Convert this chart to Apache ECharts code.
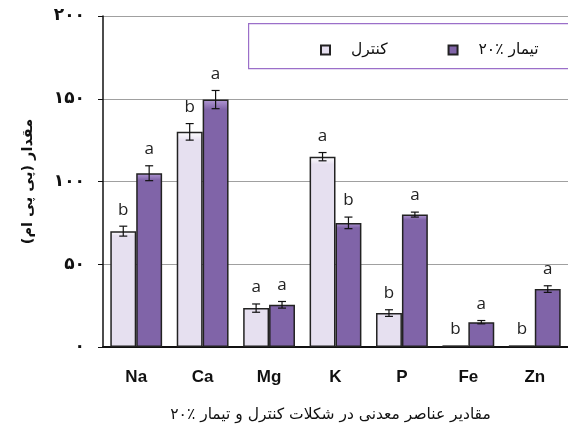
<!DOCTYPE html>
<html><head><meta charset="utf-8">
<script src="https://cdn.jsdelivr.net/npm/echarts@6/dist/echarts.min.js"></script>
<style>html,body{margin:0;padding:0;background:#fff}#c{width:568px;height:429px}</style>
</head><body><div id="c"></div>
<script>
const categories = ['Na','Ca','Mg','K','P','Fe','Zn'];
const controlValues = [70, 130, 23.5, 115, 20.5, 1, 1];
const controlErrors = [3, 5, 2.5, 2.5, 2, 0, 0];
const controlLetters = ['b','b','a','a','b','b','b'];
const treatValues = [105, 149.5, 25.5, 75, 80, 15, 35];
const treatErrors = [4.5, 5.5, 2, 3.5, 1.5, 1, 2];
const treatLetters = ['a','a','a','b','a','a','a'];
const yTickValues = [0, 50, 100, 150, 200];
const yTickLabels = ['۰','۵۰','۱۰۰','۱۵۰','۲۰۰'];
const controlName = 'کنترل';
const treatName = 'تیمار ٪۲۰';
const yTitle = 'مقدار (پی پی ام)';
const caption = 'مقادیر عناصر معدنی در شکلات کنترل و تیمار ٪۲۰';

const rtl = s => '\u202B' + s + '\u202C';
const BAR_FRAC = 0.39;
const faFont = '"DejaVu Sans", "Noto Sans", sans-serif';

function errSeries(vals, errs, letters, side) {
  return {
    type: 'custom', silent: true, z: 5,
    data: vals.map((v, i) => [i, v, errs[i]]),
    renderItem: function (params, api) {
      const i = api.value(0), v = api.value(1), e = api.value(2);
      const letter = letters[i];
      const band = api.size([1, 0])[0];
      const bw = band * BAR_FRAC;
      const c = api.coord([i, v]);
      const x = c[0] + side * bw / 2;
      const yTop = api.coord([i, v + e])[1];
      const yBot = api.coord([i, v - e])[1];
      const children = [];
      const st = { stroke: '#111', lineWidth: 1.2 };
      if (e > 0) {
        children.push({ type: 'line', shape: { x1: x, y1: yTop, x2: x, y2: yBot }, style: st });
        children.push({ type: 'line', shape: { x1: x - 4, y1: yTop, x2: x + 4, y2: yTop }, style: st });
        children.push({ type: 'line', shape: { x1: x - 4, y1: yBot, x2: x + 4, y2: yBot }, style: st });
      }
      children.push({ type: 'text', x: x, y: yTop - 8,
        style: { text: letter, fill: '#222', font: '17px "Open Sans", "Liberation Sans", sans-serif', textAlign: 'center', textVerticalAlign: 'bottom' } });
      return { type: 'group', children: children };
    }
  };
}

const chart = echarts.init(document.getElementById('c'), null, { renderer: 'canvas' });
chart.setOption({
  animation: false,
  backgroundColor: '#fff',
  grid: { left: 103, right: -1, top: 16, bottom: 82 },
  legend: {
    data: [controlName, treatName],
    formatter: n => rtl(n),
    left: 315, top: 37,
    itemWidth: 9, itemHeight: 9, itemGap: 60,
    icon: 'rect',
    textStyle: { fontFamily: faFont, fontSize: 15.5, color: '#111', padding: [0, 0, 0, 16] }
  },
  graphic: [
    { type: 'rect', left: 248, top: 23, shape: { width: 330, height: 45 }, style: { fill: '#fff', stroke: '#9b6fc9', lineWidth: 1.2 }, z: 1 }
  ],
  xAxis: {
    type: 'category', data: categories,
    axisLine: { lineStyle: { color: '#111', width: 2 } },
    axisTick: { show: false },
    axisLabel: { color: '#111', fontSize: 17, fontWeight: 'bold', fontFamily: '"Liberation Sans", sans-serif', margin: 22 },
    name: rtl(caption), nameLocation: 'middle', nameGap: 60,
    nameTextStyle: { fontFamily: faFont, fontSize: 15.5, color: '#111', padding: [0, 10, 0, 0] }
  },
  yAxis: {
    type: 'value', min: 0, max: 200, interval: 50,
    axisLine: { show: true, lineStyle: { color: '#111', width: 1.5 } },
    axisTick: { show: true, length: 5, lineStyle: { color: '#111' } },
    splitLine: { lineStyle: { color: '#a0a0a0', width: 1 } },
    axisLabel: { color: '#111', fontSize: 17, fontWeight: 'bold', fontFamily: faFont, margin: 18,
      formatter: function (v) { const k = yTickValues.indexOf(v); return k >= 0 ? yTickLabels[k] : ''; } },
    name: rtl(yTitle), nameLocation: 'middle', nameGap: 67, nameRotate: 90,
    nameTextStyle: { fontFamily: faFont, fontSize: 14.5, fontWeight: 'bold', color: '#111' }
  },
  series: [
    { name: controlName, type: 'bar', data: controlValues, barWidth: (BAR_FRAC * 100) + '%', barGap: '0%',
      itemStyle: { color: { type: 'linear', x: 0, y: 0, x2: 0, y2: 1, colorStops: [{ offset: 0, color: '#ffffff' }, { offset: 0.04, color: '#e6e0f0' }, { offset: 1, color: '#e6e0f0' }] }, borderColor: '#222', borderWidth: 1.5 } },
    { name: treatName, type: 'bar', data: treatValues, barWidth: (BAR_FRAC * 100) + '%', barGap: '0%',
      itemStyle: { color: { type: 'linear', x: 0, y: 0, x2: 0, y2: 1, colorStops: [{ offset: 0, color: '#b39ad6' }, { offset: 0.04, color: '#8064a8' }, { offset: 1, color: '#8064a8' }] }, borderColor: '#222', borderWidth: 1.5 } },
    errSeries(controlValues, controlErrors, controlLetters, -1),
    errSeries(treatValues, treatErrors, treatLetters, 1)
  ]
});
</script></body></html>
